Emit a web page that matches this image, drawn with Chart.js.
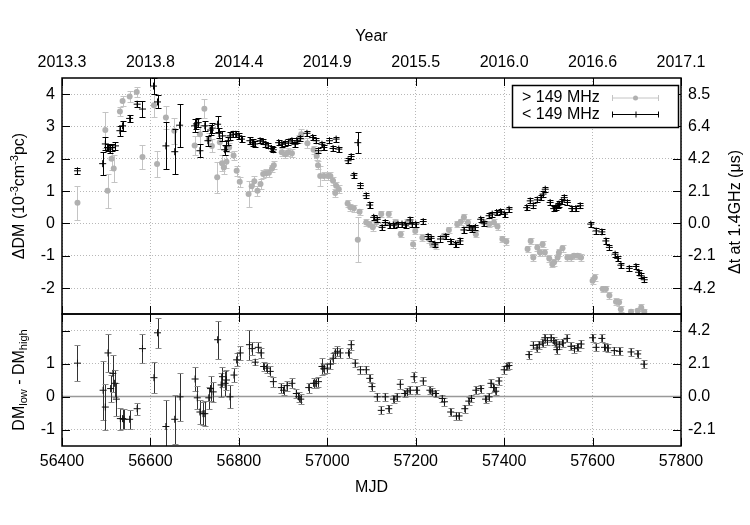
<!DOCTYPE html>
<html>
<head>
<meta charset="utf-8">
<script src="https://cdn.jsdelivr.net/npm/chart.js@4.4.0/dist/chart.umd.min.js"></script>
<style>
  body { margin: 0; background: #fff; }
  #wrap { position: relative; width: 750px; height: 525px; }
  .panel { position: absolute; left: 0; width: 750px; }
</style>
</head>
<body>
<div id="wrap">
  <div class="panel" style="top:0;height:320px"><canvas id="topChart" width="750" height="320"></canvas></div>
  <div class="panel" style="top:300px;height:225px"><canvas id="botChart" width="750" height="225"></canvas></div>
</div>
<script>
// ---- data ----
var mjdTicks = [56400, 56600, 56800, 57000, 57200, 57400, 57600, 57800];
var yearLabels = ["2013.3", "2013.8", "2014.4", "2014.9", "2015.5", "2016.0", "2016.6", "2017.1"];
var topTicks = [-2, -1, 0, 1, 2, 3, 4];
var topRightLabels = ["-4.2", "-2.1", "0.0", "2.1", "4.2", "6.4", "8.5"];
var botTicks = [-1, 0, 1, 2];
var botLeftLabels = ["-1", "0", "1", ""];
var botRightLabels = ["-2.1", "0.0", "2.1", "4.2"];

// > 149 MHz (grey)
var highMjd = [56435,56498,56503,56512,56517,56531,56537,56553,56569,56582,56608,56615,56635,56654,56700,56712,56722,56732,56739,56751,
  56757,56762,56766,56772,56778,56788,56795,56802,56822,56829,56835,56842,56849,56855,56862,56868,56875,56879,56897,56905,
  56912,56920,56936,56941,56955,56969,56976,56979,56984,56992,57001,57007,57013,57018,57020,57026,57046,57052,57060,57069,
  57073,57088,57096,57103,57111,57122,57139,57154,57166,57181,57194,57199,57215,57230,57237,57245,57264,57275,57294,57302,
  57309,57318,57328,57336,57354,57366,57377,57385,57396,57405,57453,57460,57466,57475,57481,57487,57492,57502,57509,57513,
  57521,57524,57532,57543,57551,57558,57566,57574,57600,57605,57623,57630,57638,57653,57660,57664,57687,57702,57710,57717];
var highDm = [0.64,2.89,1.01,2.00,1.70,3.46,3.79,3.93,4.07,2.06,3.66,1.84,3.28,2.87,2.41,2.76,3.55,2.61,2.40,1.43,
  2.51,1.86,1.73,1.91,2.35,2.10,1.63,1.29,0.91,1.15,1.31,1.01,1.22,1.53,1.55,1.57,1.70,1.80,2.20,2.14,
  2.20,2.17,2.62,2.76,2.48,2.28,2.09,1.80,1.47,1.47,1.47,1.47,1.32,0.94,1.17,1.06,0.62,0.50,0.47,-0.50,
  0.36,0.03,-0.02,-0.12,0.03,0.29,0.29,0.03,-0.33,0.03,-0.64,-0.23,-0.44,-0.49,-0.64,-0.69,-0.38,-0.20,-0.02,0.05,
  0.19,0.03,-0.17,-0.33,0.03,-0.02,0.03,-0.09,-0.48,-0.56,-0.79,-0.54,-1.05,-0.74,-0.90,-0.64,-0.90,-1.08,-1.26,-1.20,
  -1.05,-0.90,-0.77,-1.05,-1.05,-1.00,-1.00,-1.05,-1.77,-1.67,-2.03,-2.03,-2.23,-2.42,-2.44,-2.65,-2.73,-2.70,-2.60,-2.73];
var highErr = [0.53,0.55,0.53,0.35,0.42,0.15,0.15,0.18,0.15,0.36,0.36,0.41,0.35,0.40,0.30,0.30,0.30,0.20,0.20,0.48,
  0.20,0.25,0.20,0.20,0.15,0.15,0.15,0.15,0.40,0.15,0.15,0.15,0.15,0.12,0.12,0.12,0.12,0.12,0.12,0.12,
  0.12,0.12,0.12,0.15,0.15,0.12,0.12,0.12,0.30,0.12,0.12,0.12,0.12,0.12,0.12,0.12,0.10,0.10,0.10,0.69,
  0.10,0.10,0.10,0.10,0.10,0.10,0.10,0.10,0.10,0.10,0.12,0.10,0.10,0.10,0.10,0.10,0.10,0.10,0.10,0.10,
  0.10,0.10,0.10,0.10,0.10,0.10,0.10,0.10,0.10,0.10,0.10,0.10,0.10,0.10,0.10,0.10,0.10,0.10,0.10,0.10,
  0.10,0.10,0.10,0.10,0.10,0.10,0.10,0.10,0.10,0.10,0.10,0.10,0.10,0.10,0.10,0.10,0.10,0.10,0.10,0.10];

// < 149 MHz (black)
var lowMjd = [56435,56492,56498,56503,56508,56514,56521,56531,56537,56553,56570,56582,56607,56616,56635,56655,56666,56700,56704,56708,
  56712,56723,56730,56736,56740,56752,56755,56763,56768,56772,56776,56780,56787,56793,56800,56806,56825,56831,56836,56848,
  56855,56860,56867,56874,56878,56890,56897,56905,56912,56920,56927,56931,56939,56954,56967,56975,56980,56988,56992,57005,
  57013,57020,57026,57047,57054,57060,57069,57075,57088,57096,57105,57113,57124,57131,57141,57150,57160,57169,57177,57187,
  57192,57200,57217,57228,57235,57243,57256,57268,57279,57290,57300,57309,57321,57328,57335,57347,57354,57366,57373,57383,
  57392,57401,57411,57451,57459,57466,57475,57483,57488,57493,57504,57512,57517,57521,57524,57530,57536,57543,57553,57562,
  57572,57596,57608,57621,57630,57638,57651,57657,57664,57683,57698,57704,57710,57717];
var lowDm = [1.63,1.85,2.46,2.35,2.30,2.35,2.40,2.87,3.02,3.25,3.69,3.54,4.25,3.76,2.40,2.22,3.04,3.02,3.08,3.12,
  2.25,3.02,2.56,2.89,2.95,3.07,2.79,2.71,2.28,2.40,2.56,2.71,2.76,2.76,2.71,2.61,2.56,2.51,2.46,2.56,
  2.53,2.45,2.40,2.32,2.28,2.50,2.45,2.48,2.52,2.56,2.45,2.56,2.63,2.79,2.66,2.56,2.25,2.45,2.35,2.56,
  2.32,2.61,2.30,1.94,2.07,1.49,2.50,1.17,0.86,0.57,0.19,0.13,-0.12,0.03,-0.05,-0.05,-0.02,-0.02,-0.05,0.11,
  -0.02,-0.02,0.06,-0.40,-0.46,-0.64,-0.48,-0.40,-0.56,-0.64,-0.54,-0.20,-0.12,-0.17,-0.12,0.13,0.01,0.24,0.29,0.34,
  0.36,0.29,0.44,0.49,0.70,0.55,0.73,0.80,0.91,1.06,0.65,0.46,0.49,0.55,0.60,0.67,0.80,0.65,0.46,0.46,
  0.55,-0.02,-0.23,-0.26,-0.54,-0.74,-0.95,-1.08,-1.29,-1.39,-1.33,-1.51,-1.62,-1.74];
var lowErr = [0.10,0.35,0.20,0.12,0.12,0.12,0.12,0.15,0.15,0.12,0.10,0.25,0.25,0.20,0.73,0.70,0.67,0.20,0.15,0.15,
  0.20,0.15,0.15,0.15,0.15,0.25,0.15,0.15,0.15,0.15,0.12,0.12,0.10,0.10,0.10,0.10,0.10,0.10,0.10,0.08,
  0.08,0.08,0.08,0.08,0.08,0.08,0.08,0.08,0.08,0.08,0.08,0.08,0.08,0.08,0.08,0.08,0.08,0.08,0.08,0.08,
  0.08,0.08,0.08,0.08,0.08,0.08,0.33,0.08,0.08,0.08,0.08,0.08,0.08,0.08,0.08,0.08,0.08,0.08,0.08,0.08,
  0.08,0.08,0.08,0.08,0.08,0.08,0.08,0.08,0.08,0.08,0.08,0.08,0.08,0.08,0.08,0.08,0.08,0.08,0.08,0.08,
  0.08,0.08,0.08,0.08,0.08,0.08,0.08,0.08,0.08,0.08,0.08,0.08,0.08,0.08,0.08,0.08,0.08,0.08,0.08,0.08,
  0.08,0.08,0.08,0.08,0.08,0.08,0.08,0.08,0.08,0.08,0.08,0.08,0.08,0.08];

// DM_low - DM_high
var diffMjd = [56435,56493,56498,56504,56510,56515,56519,56523,56532,56537,56540,56553,56570,56582,56608,56616,56635,56655,56667,56701,
  56706,56712,56719,56723,56732,56736,56742,56752,56760,56763,56769,56772,56780,56789,56795,56803,56824,56830,56837,56844,
  56850,56856,56863,56871,56878,56896,56901,56909,56920,56930,56935,56940,56958,56969,56974,56980,56988,56992,57000,57007,
  57013,57018,57023,57029,57048,57054,57063,57075,57088,57096,57101,57113,57122,57131,57139,57150,57158,57165,57175,57181,
  57187,57196,57202,57217,57232,57237,57245,57260,57265,57279,57292,57298,57311,57320,57326,57336,57347,57358,57366,57370,
  57376,57381,57388,57400,57406,57411,57456,57466,57474,57479,57487,57492,57498,57506,57512,57517,57519,57525,57532,57542,
  57551,57559,57566,57574,57600,57608,57621,57627,57634,57649,57661,57687,57702,57716];
var diffVal = [1.01,0.19,-0.32,1.32,0.24,0.70,0.40,-0.08,-0.67,-0.67,-0.69,-0.69,-0.37,1.45,0.57,1.93,-0.91,-0.69,-0.01,0.53,
  -0.04,-0.47,-0.52,-0.52,-0.04,0.24,0.14,1.72,0.35,0.60,0.40,0.50,-0.01,0.65,1.11,1.32,1.57,1.45,1.04,1.49,
  1.32,0.91,0.86,0.76,0.45,0.27,0.19,0.33,0.40,0.09,-0.01,-0.08,0.27,0.40,0.40,0.45,0.91,0.84,0.86,0.98,
  1.16,1.32,1.37,1.32,1.32,1.57,1.01,0.81,0.81,0.55,0.30,-0.01,-0.42,-0.01,-0.37,-0.08,-0.01,0.37,0.09,0.14,
  0.19,0.60,0.19,0.47,0.19,0.14,0.09,-0.06,-0.16,-0.47,-0.59,-0.59,-0.37,-0.14,-0.06,0.19,0.24,-0.08,-0.01,0.40,
  0.27,0.16,0.47,0.81,0.91,0.94,1.27,1.55,1.47,1.57,1.62,1.78,1.69,1.78,1.69,1.62,1.42,1.57,1.62,1.76,
  1.52,1.45,1.49,1.59,1.78,1.49,1.76,1.49,1.47,1.39,1.37,1.35,1.29,0.98];
var diffErr = [0.54,0.89,0.71,0.57,0.40,0.55,0.40,0.50,0.33,0.30,0.30,0.28,0.18,0.43,0.47,0.46,0.80,0.75,0.73,0.35,
  0.35,0.35,0.35,0.38,0.33,0.38,0.30,0.57,0.35,0.30,0.38,0.30,0.35,0.20,0.20,0.20,0.46,0.20,0.10,0.15,
  0.15,0.15,0.15,0.15,0.15,0.15,0.15,0.15,0.15,0.15,0.15,0.15,0.15,0.15,0.15,0.15,0.25,0.15,0.15,0.15,
  0.15,0.15,0.15,0.15,0.15,0.15,0.12,0.12,0.12,0.12,0.12,0.12,0.12,0.12,0.12,0.12,0.12,0.15,0.12,0.12,
  0.12,0.15,0.12,0.12,0.12,0.12,0.12,0.12,0.12,0.12,0.12,0.12,0.12,0.12,0.12,0.12,0.12,0.12,0.12,0.12,
  0.12,0.12,0.12,0.12,0.12,0.12,0.12,0.12,0.12,0.12,0.12,0.12,0.12,0.12,0.12,0.12,0.12,0.12,0.12,0.12,
  0.12,0.12,0.12,0.12,0.12,0.12,0.12,0.12,0.12,0.12,0.12,0.12,0.12,0.12];

// ---- drawing ----
var FONT = "'Liberation Sans', Arial, Helvetica, sans-serif";
Chart.defaults.font.family = FONT;
Chart.defaults.font.size = 16;
Chart.defaults.color = "#000";

function points(xs, ys) {
    return xs.map(function (x, i) { return {x: x, y: ys[i]}; });
}

function setTicks(list) {
    return function (scale) {
        scale.ticks = list.map(function (v) { return {value: v}; });
    };
}

// fixed axis sizes, and no extra room for labels hanging over the ends
function fixWidth(w) {
    return function (s) { s.width = w; s.paddingTop = 0; s.paddingBottom = 0; };
}
function fixHeight(h) {
    return function (s) { s.height = h; s.paddingLeft = 0; s.paddingRight = 0; };
}

/* draw a text made of normal / super (1) / sub (-1) parts, centred on cx,cy */
function drawRich(ctx, parts, cx, cy, rot) {
    var big = "16px " + FONT, small = "11px " + FONT;
    ctx.save();
    ctx.translate(cx, cy);
    ctx.rotate(rot);
    var w = 0;
    parts.forEach(function (p) { ctx.font = p[1] ? small : big; w += ctx.measureText(p[0]).width; });
    var x = -w / 2;
    ctx.textAlign = "left";
    ctx.textBaseline = "middle";
    ctx.fillStyle = "#000";
    parts.forEach(function (p) {
        ctx.font = p[1] ? small : big;
        var dy = p[1] === 1 ? -5 : (p[1] === -1 ? 4 : 0);
        ctx.fillText(p[0], x, dy);
        x += ctx.measureText(p[0]).width;
    });
    ctx.restore();
}

/* vertical error bars with caps, drawn under each dataset's markers */
var errorBars = {
    id: "errorBars",
    beforeDatasetDraw: function (chart, args) {
        var ds = chart.data.datasets[args.index];
        if (!ds.errors) return;
        var xs = chart.scales.x, ys = chart.scales.y;
        var a = chart.chartArea, ctx = chart.ctx;
        ctx.save();
        ctx.beginPath();
        ctx.rect(a.left, a.top, a.right - a.left, a.bottom - a.top);
        ctx.clip();
        ctx.lineWidth = 1;
        ds.data.forEach(function (p, i) {
            var px = Math.round(xs.getPixelForValue(p.x)) + 0.5;
            var y1 = Math.round(ys.getPixelForValue(p.y - ds.errors[i])) + 0.5;
            var y2 = Math.round(ys.getPixelForValue(p.y + ds.errors[i])) + 0.5;
            ctx.strokeStyle = ds.errorColor;
            ctx.beginPath();
            ctx.moveTo(px, y1); ctx.lineTo(px, y2);
            ctx.stroke();
            ctx.strokeStyle = ds.capColor || ds.errorColor;
            ctx.beginPath();
            ctx.moveTo(px - 3, y1); ctx.lineTo(px + 3, y1);
            ctx.moveTo(px - 3, y2); ctx.lineTo(px + 3, y2);
            ctx.stroke();
        });
        ctx.restore();
    }
};

/* frame, inward tick marks, zero line and extra texts */
var frame = {
    id: "frame",
    beforeDatasetsDraw: function (chart, args, opts) {
        if (!opts.zeroLine) return;
        var a = chart.chartArea, ctx = chart.ctx;
        var y0 = chart.scales.y.getPixelForValue(0);
        ctx.save();
        ctx.strokeStyle = "#999";
        ctx.lineWidth = 1.5;
        ctx.beginPath();
        ctx.moveTo(a.left, y0); ctx.lineTo(a.right, y0);
        ctx.stroke();
        ctx.restore();
    },
    afterDraw: function (chart, args, opts) {
        var a = chart.chartArea, ctx = chart.ctx;
        var xs = chart.scales.x, ys = chart.scales.y;
        ctx.save();
        ctx.strokeStyle = "#000";
        ctx.lineWidth = 1;
        ctx.beginPath();
        xs.ticks.forEach(function (t) {
            var px = Math.round(xs.getPixelForValue(t.value)) + 0.5;
            ctx.moveTo(px, a.top); ctx.lineTo(px, a.top + 8);
            ctx.moveTo(px, a.bottom); ctx.lineTo(px, a.bottom - 8);
        });
        ys.ticks.forEach(function (t) {
            var py = Math.round(ys.getPixelForValue(t.value)) + 0.5;
            ctx.moveTo(a.left, py); ctx.lineTo(a.left + 8, py);
            ctx.moveTo(a.right, py); ctx.lineTo(a.right - 8, py);
        });
        ctx.stroke();
        ctx.lineWidth = 1.5;
        ctx.strokeRect(a.left, a.top, a.right - a.left, a.bottom - a.top);
        ctx.restore();
        (opts.texts || []).forEach(function (t) { drawRich(ctx, t.parts, t.x, t.y, -Math.PI / 2); });
        if (opts.legend) drawLegend(chart, ctx);
    }
};

function drawLegend(chart, ctx) {
    var left = 512, top = 85, w = 166, h = 42;
    ctx.save();
    ctx.fillStyle = "#fff";
    ctx.fillRect(left, top, w, h);
    ctx.strokeStyle = "#000";
    ctx.lineWidth = 1.5;
    ctx.strokeRect(left + 0.5, top + 0.5, w, h);
    ctx.font = "16px " + FONT;
    ctx.textBaseline = "middle";
    ctx.textAlign = "left";
    chart.data.datasets.forEach(function (ds, i) {
        var y = top + 13 + i * 16.5;
        ctx.fillStyle = "#000";
        ctx.fillText(ds.label, left + 10, y);
        var x1 = left + 100, x2 = left + 147, xm = (x1 + x2) / 2;
        ctx.strokeStyle = ds.errorColor;
        ctx.lineWidth = 1;
        ctx.beginPath();
        ctx.moveTo(x1, y); ctx.lineTo(x2, y);
        ctx.moveTo(x1 + 0.5, y - 3); ctx.lineTo(x1 + 0.5, y + 3);
        ctx.moveTo(x2 - 0.5, y - 3); ctx.lineTo(x2 - 0.5, y + 3);
        ctx.stroke();
        if (ds.pointStyle === "circle") {
            ctx.fillStyle = ds.backgroundColor;
            ctx.beginPath();
            ctx.arc(xm, y, 2.5, 0, Math.PI * 2);
            ctx.fill();
        } else {
            ctx.beginPath();
            ctx.moveTo(xm + 0.5, y - 3); ctx.lineTo(xm + 0.5, y + 3);
            ctx.stroke();
        }
    });
    ctx.restore();
}

var gridOpts = {color: "#b8b8b8", lineWidth: 1, drawTicks: false};
var dotted = {display: false, dash: [1, 2]};

new Chart(document.getElementById("topChart"), {
    type: "scatter",
    data: {
        datasets: [{
            label: "> 149 MHz",
            data: points(highMjd, highDm),
            errors: highErr,
            errorColor: "#c4c4c4",
            pointStyle: "circle",
            pointRadius: 3,
            backgroundColor: "#b0b0b0",
            borderWidth: 0,
            order: 2
        }, {
            label: "< 149 MHz",
            data: points(lowMjd, lowDm),
            errors: lowErr,
            errorColor: "#000",
            pointStyle: "cross",
            pointRadius: 3.5,
            borderColor: "#000",
            borderWidth: 1,
            order: 1
        }]
    },
    options: {
        responsive: false,
        animation: false,
        events: [],
        layout: {padding: {left: 0, right: 0, top: 0, bottom: 6}},
        scales: {
            x: {
                type: "linear", position: "top", min: 56400, max: 57800,
                afterBuildTicks: setTicks(mjdTicks),
                afterFit: fixHeight(78),
                ticks: {padding: 6, maxRotation: 0, callback: function (v, i) { return yearLabels[i]; }},
                grid: gridOpts, border: dotted,
                title: {display: true, text: "Year", padding: {top: 27, bottom: 0}}
            },
            y: {
                position: "left", min: -2.8, max: 4.5,
                afterBuildTicks: setTicks(topTicks),
                afterFit: fixWidth(62),
                ticks: {padding: 7, callback: function (v) { return String(v); }},
                grid: gridOpts, border: dotted
            },
            y2: {
                position: "right", min: -2.8, max: 4.5,
                afterBuildTicks: setTicks(topTicks),
                afterFit: fixWidth(69),
                ticks: {padding: 7, callback: function (v, i) { return topRightLabels[i]; }},
                grid: {drawOnChartArea: false, drawTicks: false}, border: {display: false}
            }
        },
        plugins: {
            legend: {display: false},
            tooltip: {enabled: false},
            frame: {
                legend: true,
                texts: [
                    {parts: [["\u0394DM (10", 0], ["-3", 1], ["cm", 0], ["-3", 1], ["pc)", 0]], x: 20, y: 196},
                    {parts: [["\u0394t at 1.4GHz (\u03bcs)", 0]], x: 736, y: 212}
                ]
            }
        }
    },
    plugins: [errorBars, frame]
});

new Chart(document.getElementById("botChart"), {
    type: "scatter",
    data: {
        datasets: [{
            label: "DM low - DM high",
            data: points(diffMjd, diffVal),
            errors: diffErr,
            errorColor: "#333",
            capColor: "#888",
            pointStyle: "cross",
            pointRadius: 3.5,
            borderColor: "#111",
            borderWidth: 1
        }]
    },
    options: {
        responsive: false,
        animation: false,
        events: [],
        layout: {padding: {left: 0, right: 0, top: 14, bottom: 0}},
        scales: {
            x: {
                type: "linear", position: "bottom", min: 56400, max: 57800,
                afterBuildTicks: setTicks(mjdTicks),
                afterFit: fixHeight(79),
                ticks: {padding: 6, maxRotation: 0, callback: function (v) { return String(v); }},
                grid: gridOpts, border: dotted,
                title: {display: true, text: "MJD", padding: {top: 0, bottom: 28}}
            },
            y: {
                position: "left", min: -1.5, max: 2.5,
                afterBuildTicks: setTicks(botTicks),
                afterFit: fixWidth(62),
                ticks: {padding: 7, callback: function (v, i) { return botLeftLabels[i]; }},
                grid: {
                    color: function (c) { return c.tick && c.tick.value === 0 ? "rgba(0,0,0,0)" : "#b8b8b8"; },
                    lineWidth: 1, drawTicks: false
                },
                border: dotted
            },
            y2: {
                position: "right", min: -1.5, max: 2.5,
                afterBuildTicks: setTicks(botTicks),
                afterFit: fixWidth(69),
                ticks: {padding: 7, callback: function (v, i) { return botRightLabels[i]; }},
                grid: {drawOnChartArea: false, drawTicks: false}, border: {display: false}
            }
        },
        plugins: {
            legend: {display: false},
            tooltip: {enabled: false},
            frame: {
                zeroLine: true,
                texts: [
                    {parts: [["DM", 0], ["low", -1], [" - DM", 0], ["high", -1]], x: 20, y: 80}
                ]
            }
        }
    },
    plugins: [errorBars, frame]
});
</script>
</body>
</html>
